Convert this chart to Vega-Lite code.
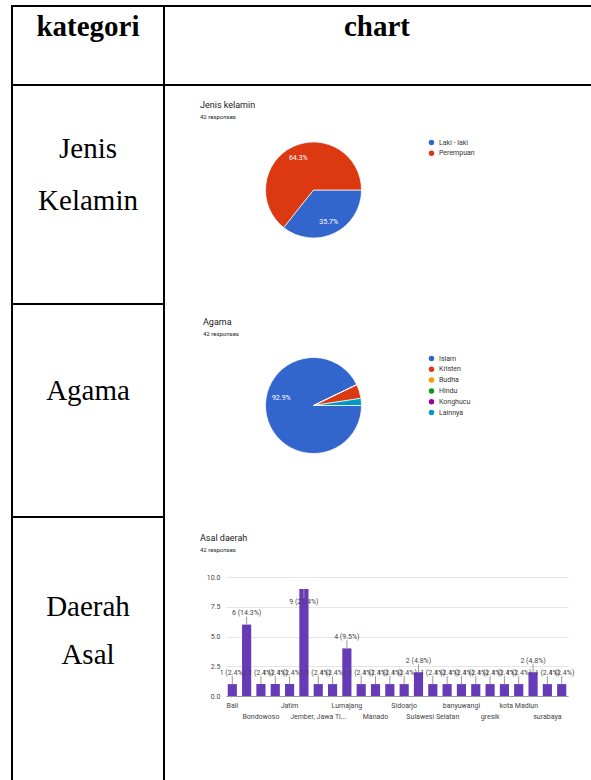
{
  "$schema": "https://vega.github.io/schema/vega-lite/v6.json",
  "padding": {"left": 11, "top": 5, "right": 0, "bottom": 0},
  "background": "white",
  "columns": 2,
  "spacing": 0,
  "bounds": "flush",
  "align": "each",
  "resolve": {"scale": {"color": "independent", "theta": "independent", "x": "independent", "y": "independent"}, "legend": {"color": "independent"}, "axis": {"x": "independent", "y": "independent"}},
  "datasets": {
    "h1": [{"t": "kategori"}],
    "h2": [{"t": "chart"}],
    "r1": [{"t": "Jenis\nKelamin"}],
    "r2": [{"t": "Agama"}],
    "r3": [{"t": "Daerah\nAsal"}],
    "jk": [
      {"k": "Laki - laki", "n": 15, "lab": "35.7%"},
      {"k": "Perempuan", "n": 27, "lab": "64.3%"}
    ],
    "ag": [
      {"k": "Islam", "n": 39, "lab": "92.9%"},
      {"k": "Kristen", "n": 2, "lab": ""},
      {"k": "Budha", "n": 0, "lab": ""},
      {"k": "Hindu", "n": 0, "lab": ""},
      {"k": "Konghucu", "n": 0, "lab": ""},
      {"k": "Lainnya", "n": 1, "lab": ""}
    ],
    "asal": [
      {"d": "Bali", "n": 1, "lab": "1 (2.4%)"},
      {"d": "Banyuwangi", "n": 6, "lab": "6 (14.3%)"},
      {"d": "Bondowoso", "n": 1, "lab": "1 (2.4%)"},
      {"d": "Gresik", "n": 1, "lab": "1 (2.4%)"},
      {"d": "Jatim", "n": 1, "lab": "1 (2.4%)"},
      {"d": "Jember", "n": 9, "lab": "9 (21.4%)"},
      {"d": "Jember, Jawa Timur", "n": 1, "lab": "1 (2.4%)"},
      {"d": "Kediri", "n": 1, "lab": "1 (2.4%)"},
      {"d": "Lumajang", "n": 4, "lab": "4 (9.5%)"},
      {"d": "Malang", "n": 1, "lab": "1 (2.4%)"},
      {"d": "Manado", "n": 1, "lab": "1 (2.4%)"},
      {"d": "Pasuruan", "n": 1, "lab": "1 (2.4%)"},
      {"d": "Sidoarjo", "n": 1, "lab": "1 (2.4%)"},
      {"d": "Situbondo", "n": 2, "lab": "2 (4.8%)"},
      {"d": "Sulawesi Selatan", "n": 1, "lab": "1 (2.4%)"},
      {"d": "Surabaya", "n": 1, "lab": "1 (2.4%)"},
      {"d": "banyuwangi", "n": 1, "lab": "1 (2.4%)"},
      {"d": "bondowoso", "n": 1, "lab": "1 (2.4%)"},
      {"d": "gresik", "n": 1, "lab": "1 (2.4%)"},
      {"d": "jember", "n": 1, "lab": "1 (2.4%)"},
      {"d": "kota Madiun", "n": 1, "lab": "1 (2.4%)"},
      {"d": "lumajang", "n": 2, "lab": "2 (4.8%)"},
      {"d": "surabaya", "n": 1, "lab": "1 (2.4%)"},
      {"d": "tuban", "n": 1, "lab": "1 (2.4%)"}
    ]
  },
  "concat": [
    {
      "width": 152, "height": 79,
      "view": {"stroke": "black", "strokeWidth": 2},
      "data": {"name": "h1"},
      "mark": {"type": "text", "font": "Liberation Serif", "fontSize": 29, "fontWeight": "bold", "baseline": "alphabetic", "dy": -10, "color": "black"},
      "encoding": {"text": {"field": "t", "type": "nominal"}}
    },
    {
      "width": 430, "height": 79,
      "view": {"stroke": "black", "strokeWidth": 2},
      "data": {"name": "h2"},
      "mark": {"type": "text", "font": "Liberation Serif", "fontSize": 29, "fontWeight": "bold", "baseline": "alphabetic", "dy": -10, "dx": -2, "color": "black"},
      "encoding": {"text": {"field": "t", "type": "nominal"}}
    },
    {
      "width": 152, "height": 219,
      "view": {"stroke": "black", "strokeWidth": 2},
      "data": {"name": "r1"},
      "mark": {"type": "text", "font": "Liberation Serif", "fontSize": 29, "baseline": "middle", "lineBreak": "\n", "lineHeight": 52, "dy": -46, "color": "black"},
      "encoding": {"text": {"field": "t", "type": "nominal"}}
    },
    {
      "width": 299, "height": 210,
      "view": {"stroke": null},
      "data": {"name": "jk"},
      "title": {"text": "Jenis kelamin", "subtitle": "42 responses", "anchor": "start", "dx": 36, "offset": -35, "font": "Roboto", "fontSize": 9, "fontWeight": "normal", "color": "#202124", "subtitleFont": "Roboto", "subtitleFontSize": 6, "subtitleColor": "#202124", "subtitlePadding": 4},
      "layer": [
        {
          "mark": {"type": "arc", "outerRadius": 48, "stroke": "white", "strokeWidth": 0.7},
          "encoding": {
            "theta": {"field": "n", "type": "quantitative", "stack": true, "scale": {"range": [1.5708, 7.854]}},
            "color": {"field": "k", "type": "nominal", "scale": {"domain": ["Laki - laki", "Perempuan"], "range": ["#3366cc", "#dc3912"]},
              "legend": {"orient": "none", "legendX": 264, "legendY": 54, "title": null, "symbolType": "circle", "symbolSize": 30, "symbolStrokeWidth": 0, "labelFont": "Roboto", "labelFontSize": 7, "labelColor": "#333", "rowPadding": 2.8, "padding": 0, "labelOffset": 4}}
          }
        },
        {
          "mark": {"type": "text", "radius": 35, "color": "white", "fontSize": 7, "font": "Roboto"},
          "encoding": {
            "theta": {"field": "n", "type": "quantitative", "stack": true},
            "detail": {"field": "k", "type": "nominal"},
            "text": {"field": "lab", "type": "nominal"}
          }
        }
      ]
    },
    {
      "width": 152, "height": 213,
      "view": {"stroke": "black", "strokeWidth": 2},
      "data": {"name": "r2"},
      "mark": {"type": "text", "font": "Liberation Serif", "fontSize": 29, "baseline": "middle", "dy": -20, "color": "black"},
      "encoding": {"text": {"field": "t", "type": "nominal"}}
    },
    {
      "width": 299, "height": 203,
      "view": {"stroke": null},
      "data": {"name": "ag"},
      "title": {"text": "Agama", "subtitle": "42 responses", "anchor": "start", "dx": 39, "offset": -33, "font": "Roboto", "fontSize": 9, "fontWeight": "normal", "color": "#202124", "subtitleFont": "Roboto", "subtitleFontSize": 6, "subtitleColor": "#202124", "subtitlePadding": 4},
      "layer": [
        {
          "mark": {"type": "arc", "outerRadius": 48, "stroke": "white", "strokeWidth": 0.7},
          "encoding": {
            "theta": {"field": "n", "type": "quantitative", "stack": true, "scale": {"range": [1.5708, 7.854]}},
            "color": {"field": "k", "type": "nominal", "scale": {"domain": ["Islam", "Kristen", "Budha", "Hindu", "Konghucu", "Lainnya"], "range": ["#3366cc", "#dc3912", "#ff9900", "#109618", "#990099", "#0099c6"]},
              "legend": {"orient": "none", "legendX": 264, "legendY": 51, "title": null, "symbolType": "circle", "symbolSize": 30, "symbolStrokeWidth": 0, "labelFont": "Roboto", "labelFontSize": 7, "labelColor": "#333", "rowPadding": 2.8, "padding": 0, "labelOffset": 4}}
          }
        },
        {
          "mark": {"type": "text", "radius": 33, "color": "white", "fontSize": 7, "font": "Roboto"},
          "encoding": {
            "theta": {"field": "n", "type": "quantitative", "stack": true},
            "detail": {"field": "k", "type": "nominal"},
            "text": {"field": "lab", "type": "nominal"}
          }
        }
      ]
    },
    {
      "width": 152, "height": 266,
      "view": {"stroke": "black", "strokeWidth": 2},
      "data": {"name": "r3"},
      "mark": {"type": "text", "font": "Liberation Serif", "fontSize": 29, "baseline": "middle", "lineBreak": "\n", "lineHeight": 48, "dy": -43, "color": "black"},
      "encoding": {"text": {"field": "t", "type": "nominal"}}
    },
    {
      "width": 426, "height": 262,
      "view": {"stroke": null},
      "data": {"name": "asal"},
      "title": {"text": "Asal daerah", "subtitle": "42 responses", "anchor": "start", "dx": 36, "offset": -36, "font": "Roboto", "fontSize": 9, "fontWeight": "normal", "color": "#202124", "subtitleFont": "Roboto", "subtitleFontSize": 6, "subtitleColor": "#202124", "subtitlePadding": 4},
      "encoding": {
        "x": {"field": "d", "type": "nominal", "sort": null,
          "scale": {"range": [62, 404], "paddingInner": 0.36, "paddingOuter": 0.12},
          "axis": {"orient": "bottom", "offset": -83, "title": null, "ticks": false, "domainColor": "#999", "labelAngle": 0, "labelFont": "Roboto", "labelFontSize": 7, "labelColor": "#444", "labelPadding": 5, "labelLineHeight": 11, "labelBaseline": "top", "labelOverlap": false, "labelBound": false, "labelFlush": false, "labelLimit": 0, "grid": false,
            "labelExpr": "indexof(['Bali','Jatim','Lumajang','Sidoarjo','banyuwangi','kota Madiun'], datum.value) >= 0 ? datum.value : indexof(['Bondowoso','Manado','Sulawesi Selatan','gresik','surabaya'], datum.value) >= 0 ? ['', datum.value] : datum.value == 'Jember, Jawa Timur' ? ['', 'Jember, Jawa Ti...'] : ''"}
        }
      },
      "layer": [
        {
          "mark": {"type": "bar", "color": "#673ab7"},
          "encoding": {
            "y": {"field": "n", "type": "quantitative", "scale": {"domain": [0, 10], "range": [179, 60], "nice": false, "zero": true},
              "axis": {"orient": "left", "offset": -62, "title": null, "values": [0, 2.5, 5, 7.5, 10], "format": ".1f", "domain": false, "ticks": false, "labelFont": "Roboto", "labelFontSize": 7, "labelColor": "#444", "labelPadding": 6, "gridColor": "#e6e6e6", "gridWidth": 1}}
          }
        },
        {
          "transform": [{"filter": "datum.n < 9"}],
          "mark": {"type": "rule", "color": "#999", "strokeWidth": 1, "y2Offset": -8},
          "encoding": {"y": {"field": "n", "type": "quantitative"}, "y2": {"field": "n"}}
        },
        {
          "transform": [{"filter": "datum.n >= 9"}],
          "mark": {"type": "rule", "color": "#999", "strokeWidth": 1, "y2Offset": 9},
          "encoding": {"y": {"field": "n", "type": "quantitative"}, "y2": {"field": "n"}}
        },
        {
          "transform": [{"filter": "datum.n < 9"}],
          "mark": {"type": "text", "dy": -11.5, "font": "Roboto", "fontSize": 7, "color": "#444", "clip": true},
          "encoding": {"y": {"field": "n", "type": "quantitative"}, "text": {"field": "lab", "type": "nominal"}}
        },
        {
          "transform": [{"filter": "datum.n >= 9"}],
          "mark": {"type": "text", "dy": 13, "font": "Roboto", "fontSize": 7, "color": "#444", "clip": true},
          "encoding": {"y": {"field": "n", "type": "quantitative"}, "text": {"field": "lab", "type": "nominal"}}
        }
      ]
    }
  ],
  "config": {"font": "Roboto", "view": {"stroke": null}}
}
